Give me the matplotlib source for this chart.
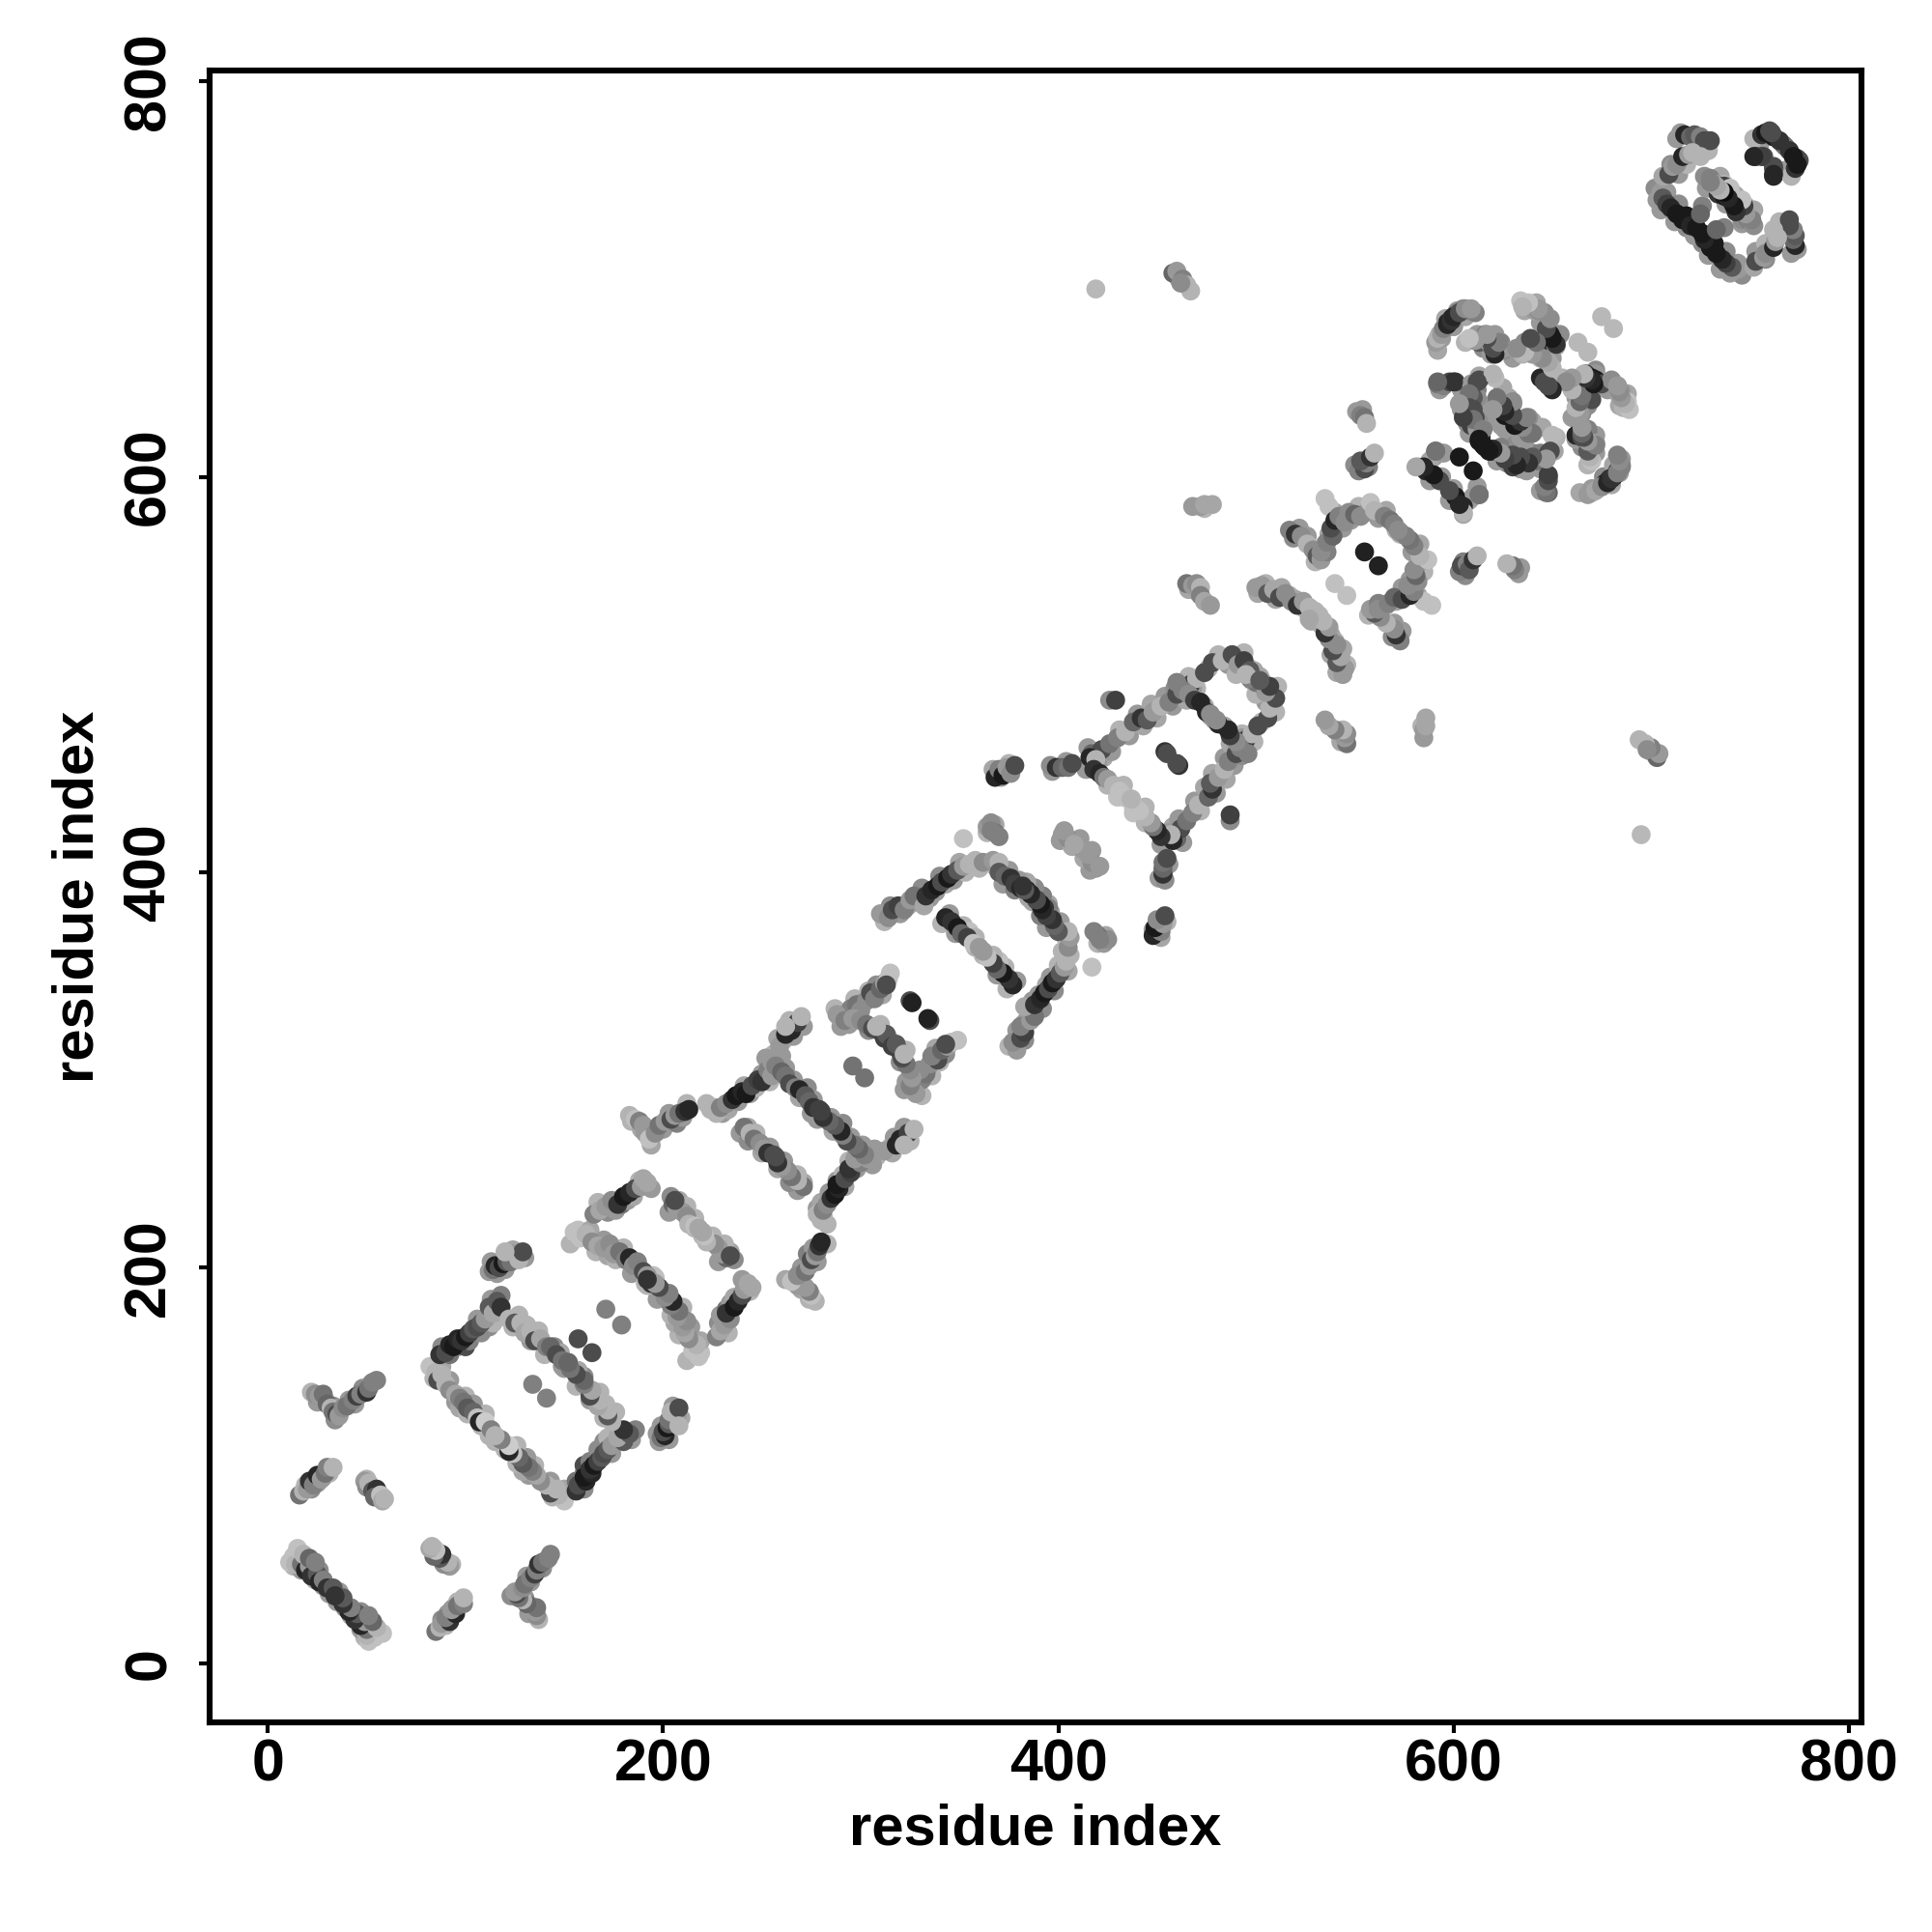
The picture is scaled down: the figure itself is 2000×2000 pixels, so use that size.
import matplotlib
matplotlib.use("Agg")
import matplotlib.pyplot as plt
import numpy as np

plt.rcParams["font.family"] = ["Liberation Sans", "DejaVu Sans"]
plt.rcParams["font.weight"] = "bold"

# contacts, one triangle only: residue i, residue j, grey level
# the map is symmetric so the other triangle comes from swapping i and j
s1_i = [11, 13, 14, 17, 19, 21, 22, 25, 26, 28, 30, 33, 34, 15, 18, 21, 24]
s1_j = [51, 54, 50, 50, 47, 49, 44, 45, 41, 42, 38, 38, 34, 58, 55, 53, 51]
s1_g = [.75, .75, .7, .45, .15, .6, .2, .35, .15, .5, .2, .35, .2, .75, .7, .4, .5]

s2_i = [16, 18, 20, 21, 23, 25, 27, 29, 30, 33]
s2_j = [85, 87, 88, 92, 90, 95, 93, 96, 99, 99]
s2_g = [.45, .7, .6, .2, .5, .15, .6, .45, .5, .7]

s3_i = [49, 50, 51, 53, 55, 54, 57, 58, 59]
s3_j = [92, 89, 91, 87, 88, 84, 85, 82, 83]
s3_g = [.6, .55, .7, .35, .2, .4, .75, .65, .7]

s4_i = [22, 24, 26, 28, 30, 32, 33, 35, 36, 38, 40, 43, 45, 47, 50, 51, 53, 55]
s4_j = [137, 136, 135, 136, 131, 129, 127, 126, 125, 129, 130, 133, 135, 136, 137, 139, 142, 143]
s4_g = [.7, .55, .6, .45, .4, .7, .45, .3, .6, .55, .45, .5, .25, .5, .2, .45, .5, .5]

s5_i = [82, 85, 86, 88, 90, 92, 95, 97, 99, 101, 104, 106, 107, 110, 113, 115]
s5_j = [150, 147, 143, 146, 141, 138, 136, 134, 132, 129, 127, 124, 122, 122, 118, 115]
s5_g = [.75, .7, .3, .7, .7, .55, .65, .5, .45, .35, .4, .75, .15, .8, .5, .7]

s6_i = [87, 90, 92, 94, 96, 98, 100, 102, 104, 106, 108, 110, 112, 114, 116, 118]
s6_j = [156, 157, 161, 160, 164, 163, 165, 167, 169, 170, 172, 174, 180, 177, 183, 180]
s6_g = [.2, .3, .15, .1, .15, .2, .1, .25, .35, .3, .35, .6, .35, .65, .35, .2]

s7_i = [122, 125, 128, 130, 133, 135, 138, 141, 143, 146, 149, 152]
s7_j = [174, 172, 172, 167, 168, 163, 164, 160, 160, 156, 153, 152]
s7_g = [.7, .35, .7, .65, .7, .3, .65, .5, .4, .3, .45, .4]

s8_i = [134, 157, 171]
s8_j = [141, 164, 179]
s8_g = [.5, .3, .5]

s9_i = [112, 114, 115, 117, 119, 121, 123, 125, 127, 129, 120]
s9_j = [198, 199, 201, 200, 202, 203, 203, 207, 204, 208, 208]
s9_g = [.6, .45, .15, .3, .1, .35, .45, .6, .7, .3, .7]

s10_i = [155, 158, 161, 164, 167, 170, 173, 175, 178, 181, 183, 185, 187, 190, 192, 194]
s10_j = [218, 215, 217, 213, 211, 210, 212, 207, 208, 204, 205, 201, 203, 198, 196, 192]
s10_g = [.75, .75, .7, .55, .65, .6, .55, .6, .45, .5, .15, .55, .5, .3, .6, .2]

s11_i = [165, 168, 171, 174, 177, 180, 183, 186, 189, 192, 190]
s11_j = [227, 229, 231, 234, 232, 236, 238, 240, 241, 243, 245]
s11_g = [.5, .65, .6, .55, .2, .1, .15, .3, .6, .65, .65]

s12_i = [205, 207, 210, 212, 213, 216, 206, 218]
s12_j = [232, 230, 228, 226, 222, 221, 234, 220]
s12_g = [.4, .6, .6, .55, .7, .75, .3, .65]

s13_i = [183, 186, 188, 190, 192, 193, 196, 198, 201, 204, 206, 208, 211, 213]
s13_j = [277, 275, 274, 272, 270, 265, 268, 272, 274, 275, 277, 278, 279, 280]
s13_g = [.7, .75, .5, .6, .6, .75, .55, .45, .6, .3, .6, .45, .2, .15]

s14_i = [224, 227, 229, 232, 235, 237, 240, 242, 245, 248, 250, 253, 255, 258, 260, 259, 262, 265, 268, 270, 262]
s14_j = [280, 278, 281, 283, 285, 287, 289, 288, 292, 295, 294, 300, 297, 303, 307, 312, 318, 320, 324, 327, 322]
s14_g = [.7, .7, .5, .55, .2, .1, .15, .1, .3, .25, .2, .5, .6, .4, .6, .6, .15, .15, .25, .7, .7]

s15_i = [255, 257, 260, 262, 264, 267, 269, 272, 274, 276, 279]
s15_j = [304, 302, 299, 297, 293, 291, 290, 287, 284, 281, 280]
s15_g = [.6, .5, .4, .45, .3, .5, .15, .35, .4, .2, .25]

s16_i = [241, 244, 246, 249, 251, 253, 256]
s16_j = [271, 268, 265, 263, 260, 258, 257]
s16_g = [.45, .7, .45, .55, .6, .2, .3]

s17_i = [289, 291, 293, 295, 298, 300, 303, 305, 307, 310, 312, 314, 313]
s17_j = [327, 325, 328, 331, 333, 330, 335, 339, 336, 341, 344, 346, 343]
s17_g = [.65, .6, .4, .5, .45, .55, .55, .3, .5, .4, .6, .75, .3]

s18_i = [288, 292, 296, 300, 303, 306, 309, 312, 313, 308]
s18_j = [328, 325, 326, 325, 323, 321, 320, 316, 318, 322]
s18_g = [.6, .5, .6, .55, .45, .3, .3, .25, .35, .7]

s19_i = [296, 325, 326]
s19_j = [302, 335, 334]
s19_g = [.45, .3, .13]

s20_i = [310, 314, 316, 319, 322, 325, 327, 332, 333, 336, 339, 341, 344, 346, 349, 352, 355, 358, 362, 367, 370, 352]
s20_j = [379, 377, 381, 383, 381, 386, 388, 383, 388, 391, 393, 395, 397, 399, 401, 403, 404, 406, 405, 406, 405, 417]
s20_g = [.6, .55, .3, .25, .5, .6, .45, .65, .2, .15, .1, .3, .1, .2, .35, .6, .7, .7, .55, .6, .7, .75]

s21_i = [370, 373, 376, 378, 381, 384, 386, 389, 391, 393]
s21_j = [400, 398, 397, 394, 392, 391, 389, 386, 383, 382]
s21_g = [.35, .4, .2, .25, .15, .1, .3, .15, .35, .2]

s22_i = [343, 346, 349, 351, 354, 357, 360]
s22_j = [377, 375, 372, 369, 367, 364, 362]
s22_g = [.15, .2, .1, .4, .25, .75, .6]

s23_i = [368, 370, 372, 374, 376, 378, 364, 366, 368, 370, 366]
s23_j = [448, 452, 449, 453, 450, 454, 423, 425, 420, 418, 421]
s23_g = [.15, .5, .1, .6, .55, .3, .6, .55, .45, .5, .5]

s24_i = [396, 399, 402, 405, 407, 402, 405, 409, 412, 414, 403]
s24_j = [454, 453, 453, 453, 455, 419, 417, 415, 412, 408, 421]
s24_g = [.55, .2, .4, .45, .3, .6, .55, .6, .6, .65, .6]

s25_i = [417, 420, 422, 426, 430, 434, 438, 442, 445, 448, 452, 456, 460, 463, 467, 470, 474, 478, 483, 488, 492, 496, 498, 500]
s25_j = [460, 456, 462, 465, 468, 471, 476, 478, 477, 481, 484, 486, 490, 493, 495, 498, 501, 506, 507, 510, 505, 500, 497, 495]
s25_g = [.4, .6, .3, .45, .5, .7, .4, .2, .35, .6, .7, .5, .3, .55, .25, .7, .3, .3, .7, .7, .3, .45, .5, .7]

s26_i = [488, 491, 494, 497, 460, 463, 466, 469, 472, 475, 477]
s26_j = [510, 505, 507, 502, 496, 492, 490, 487, 486, 481, 480]
s26_g = [.3, .6, .25, .35, .5, .5, .55, .25, .15, .15, .55]

s27_i = [416, 419, 418, 421, 423, 425, 428, 431, 434, 437, 426, 429, 454, 455]
s27_j = [458, 457, 452, 450, 448, 447, 444, 441, 438, 437, 487, 487, 461, 460]
s27_g = [.15, .7, .2, .15, .45, .6, .7, .75, .75, .7, .55, .25, .2, .3]

s28_i = [468, 472, 474, 478, 465, 468, 470, 472, 472, 474, 477]
s28_j = [585, 585, 586, 586, 546, 545, 546, 544, 540, 537, 535]
s28_g = [.6, .6, .65, .65, .45, .6, .55, .7, .5, .65, .6]

s29_i = [458, 460, 463, 465, 467, 462, 419]
s29_j = [703, 704, 700, 697, 694, 698, 695]
s29_g = [.4, .6, .5, .7, .7, .55, .72]

s30_i = [500, 503, 506, 509, 512, 515, 518, 521, 524, 527, 530, 533, 528]
s30_j = [544, 545, 541, 543, 539, 541, 537, 535, 537, 534, 532, 528, 527]
s30_g = [.6, .6, .35, .65, .3, .55, .55, .2, .6, .7, .7, .7, .65]

s31_i = [517, 520, 523, 526, 529, 531, 533, 536, 533, 536, 539, 538, 555, 540]
s31_j = [573, 571, 570, 566, 563, 560, 558, 562, 562, 567, 570, 574, 562, 546]
s31_g = [.5, .2, .55, .7, .55, .35, .6, .5, .55, .5, .4, .3, .13, .75]

s32_i = [535, 537, 540, 542, 545, 547, 550, 553, 558, 560, 565, 568, 570, 573]
s32_j = [589, 585, 578, 580, 577, 582, 581, 580, 587, 583, 580, 578, 576, 572]
s32_g = [.75, .75, .15, .5, .55, .55, .4, .55, .75, .7, .5, .45, .5, .55]

s33_i = [552, 555, 556, 553, 558, 560, 551, 553, 555, 556]
s33_j = [603, 604, 607, 608, 610, 612, 633, 631, 630, 627]
s33_g = [.5, .3, .5, .35, .2, .7, .6, .5, .45, .7]

s34_i = [591, 593, 595, 597, 599, 602, 605, 608, 611, 610, 613, 616, 618, 620, 622, 625]
s34_j = [668, 672, 675, 678, 680, 683, 685, 684, 683, 669, 668, 672, 668, 666, 665, 665]
s34_g = [.6, .65, .55, .15, .2, .5, .5, .55, .5, .7, .35, .5, .6, .3, .4, .6]

s35_i = [634, 637, 640, 643, 646, 632, 635, 638, 641, 644, 647, 649, 650, 652, 650, 648, 663, 675]
s35_j = [689, 687, 685, 684, 683, 664, 662, 664, 665, 660, 671, 670, 667, 666, 660, 657, 668, 681]
s35_g = [.75, .7, .6, .55, .6, .6, .7, .4, .45, .7, .1, .15, .2, .7, .6, .55, .72, .72]

s36_i = [592, 595, 598, 601, 621, 613, 609, 610, 607, 610, 606, 611, 609, 612, 614, 616]
s36_j = [647, 646, 648, 648, 650, 649, 647, 640, 638, 634, 632, 630, 626, 624, 620, 615]
s36_g = [.45, .5, .3, .25, .72, .3, .6, .35, .2, .3, .15, .3, .25, .6, .15, .1]

s37_i = [622, 625, 626, 628, 630, 631, 638, 633, 636, 640, 634, 644, 646]
s37_j = [638, 635, 631, 634, 637, 630, 630, 626, 625, 622, 620, 650, 648]
s37_g = [.45, .55, .1, .2, .5, .3, .55, .15, .25, .45, .6, .15, .3]

s38_i = [655, 658, 660, 662, 663, 665, 667, 670, 672, 675, 680, 683, 685, 688, 686, 668, 670]
s38_j = [650, 648, 645, 640, 636, 632, 652, 650, 649, 647, 649, 646, 643, 638, 635, 642, 639]
s38_g = [.7, .65, .55, .6, .72, .55, .2, .1, .1, .3, .55, .55, .6, .75, .7, .45, .3]

s39_i = [662, 665, 668, 670, 672, 669, 670, 670, 672, 675, 677, 679, 681, 683, 685, 685]
s39_j = [621, 620, 623, 617, 617, 611, 608, 592, 594, 595, 597, 599, 600, 603, 606, 609]
s39_g = [.15, .3, .5, .3, .6, .6, .75, .7, .6, .5, .15, .2, .15, .3, .55, .6]

s40_i = [652, 648, 648, 648, 642, 635, 629, 624, 619, 613, 630, 637]
s40_j = [620, 612, 600, 592, 608, 608, 610, 615, 613, 618, 605, 603]
s40_g = [.7, .3, .2, .4, .45, .3, .45, .5, .1, .1, .25, .6]

s41_i = [591, 582, 586, 593, 603, 601, 605, 613, 605]
s41_j = [613, 605, 603, 598, 610, 590, 585, 591, 581]
s41_g = [.45, .7, .15, .3, .1, .1, .15, .45, .65]

s42_i = [715, 717, 720, 722, 725, 727, 730, 752, 756, 758, 762, 757, 753, 762, 762]
s42_j = [774, 773, 772, 773, 772, 770, 770, 771, 773, 774, 772, 762, 762, 756, 752]
s42_g = [.6, .15, .4, .35, .5, .3, .3, .7, .2, .1, .1, .3, .15, .25, .15]

s43_i = [770, 774, 775, 702, 705, 703, 706, 708, 710, 713, 716, 718, 720, 723]
s43_j = [765, 761, 760, 746, 744, 740, 741, 738, 736, 733, 730, 732, 727, 726]
s43_g = [.2, .3, .3, .55, .6, .6, .35, .25, .15, .1, .1, .1, .15, .1]

s44_i = [706, 709, 711, 713, 716, 719, 721, 725]
s44_j = [752, 753, 757, 758, 762, 763, 764, 762]
s44_g = [.65, .3, .6, .55, .15, .6, .7, .7]

s45_i = [727, 730, 733, 737, 740, 734, 737, 741, 744, 745, 747, 749, 725]
s45_j = [752, 751, 748, 747, 746, 743, 742, 739, 737, 735, 733, 730, 733]
s45_g = [.55, .5, .6, .25, .75, .2, .1, .15, .05, .7, .65, .5, .4]

# neighbouring contacts that widen each band, these go underneath
e1_i = [13, 17, 21, 24, 28, 31, 36, 20, 26, 19, 22, 25, 28, 31, 50, 52, 56, 58, 25, 29, 33, 35, 41, 44, 48, 52, 37, 34,
        84, 88, 92, 95, 100, 104, 108, 110, 97, 101, 112, 88, 92, 96, 100, 102, 106, 108, 112, 114, 117, 113, 118,
        124, 127, 131, 133, 137, 140, 145, 148, 150, 155, 113, 116, 120, 124, 130]
e1_j = [49, 47, 46, 42, 39, 35, 36, 52, 47, 90, 88, 91, 94, 96, 93, 88, 86, 84, 132, 133, 130, 129, 133, 131, 139, 141, 128, 123,
        144, 150, 143, 132, 135, 131, 120, 126, 129, 126, 115, 160, 156, 160, 160, 163, 174, 167, 170, 172, 178, 184, 186,
        170, 176, 171, 163, 168, 156, 160, 157, 149, 148, 203, 197, 199, 209, 205]
e1_g = [.7, .6, .5, .65, .55, .6, .6, .6, .55, .7, .55, .6, .65, .7, .7, .65, .55, .7, .6, .65, .55, .6, .6, .6, .55, .6, .6, .55,
        .7, .65, .6, .6, .7, .6, .7, .7, .65, .7, .7, .55, .45, .5, .3, .5, .6, .55, .55, .7, .5, .6, .5,
        .7, .7, .7, .6, .7, .7, .55, .65, .6, .65, .6, .6, .6, .65, .6]

e2_i = [153, 157, 163, 166, 170, 172, 176, 180, 184, 188, 191, 195, 167, 172, 176, 179, 182, 185, 188, 194,
        203, 208, 212, 216, 204, 220, 184, 189, 191, 194, 200, 203, 207, 210, 212,
        222, 226, 230, 233, 238, 241, 244, 247, 250, 254, 257, 256, 261, 264, 258, 266, 271,
        253, 259, 262, 266, 269, 273, 276, 275, 252, 239, 243, 247, 250, 254, 243]
e2_j = [212, 219, 219, 208, 214, 206, 204, 210, 197, 200, 192, 196, 233, 228, 229, 232, 234, 236, 244, 240,
        228, 234, 231, 225, 236, 216, 274, 270, 268, 262, 270, 278, 273, 276, 283,
        283, 281, 278, 280, 284, 292, 288, 291, 298, 294, 300, 308, 315, 325, 316, 317, 322,
        301, 304, 301, 295, 286, 291, 285, 278, 306, 268, 271, 268, 258, 261, 264]
e2_g = [.7, .75, .65, .7, .6, .65, .7, .7, .6, .65, .7, .75, .7, .55, .6, .45, .6, .65, .7, .6,
        .6, .65, .7, .7, .55, .7, .7, .65, .6, .65, .6, .6, .5, .6, .7,
        .7, .7, .6, .65, .6, .65, .6, .7, .6, .7, .65, .7, .7, .7, .65, .6, .6,
        .7, .65, .6, .6, .65, .55, .6, .6, .6, .6, .65, .7, .65, .6, .55]

e3_i = [287, 290, 294, 297, 301, 304, 308, 311, 315, 304, 310, 316,
        312, 315, 320, 324, 328, 331, 335, 338, 340, 343, 347, 350, 353, 360,
        368, 372, 375, 378, 382, 385, 388, 392, 395, 396, 341, 345, 348, 352, 355, 358, 362,
        367, 371, 375, 364, 368, 397, 404, 401, 407, 411]
e3_j = [331, 322, 323, 336, 334, 340, 343, 338, 349, 320, 323, 314,
        375, 383, 379, 383, 385, 392, 387, 390, 398, 394, 396, 405, 400, 402,
        403, 394, 401, 391, 395, 387, 392, 388, 384, 380, 374, 379, 369, 373, 370, 367, 358,
        452, 448, 455, 420, 424, 451, 456, 416, 413, 417]
e3_g = [.7, .6, .6, .7, .6, .7, .55, .65, .75, .55, .7, .7,
        .7, .55, .6, .65, .6, .55, .6, .6, .55, .65, .6, .65, .7, .7,
        .7, .6, .6, .5, .5, .65, .5, .55, .65, .6, .7, .6, .6, .7, .75, .7, .7,
        .65, .6, .7, .7, .65, .6, .6, .6, .65, .6]

e4_i = [415, 418, 423, 427, 431, 436, 440, 443, 447, 450, 454, 458, 462, 466, 470, 476, 481, 486, 490, 494, 499, 503,
        459, 465, 468, 474, 479, 414, 420, 425, 430, 433, 438, 466, 470, 474, 461,
        501, 505, 510, 513, 517, 520, 525, 530, 519, 522, 526, 530, 535, 537, 540, 544, 548, 552, 556, 562, 566, 571,
        550, 557, 554]
e4_j = [463, 455, 458, 461, 472, 469, 480, 474, 485, 478, 489, 484, 489, 499, 493, 503, 510, 505, 500, 511, 502, 497,
        493, 487, 493, 484, 477, 452, 461, 444, 438, 444, 433, 543, 542, 584, 700,
        541, 546, 538, 544, 540, 538, 533, 529, 569, 574, 570, 557, 566, 571, 582, 574, 578, 585, 582, 579, 583, 573,
        606, 605, 634]
e4_g = [.6, .5, .65, .6, .7, .6, .6, .65, .65, .65, .6, .6, .65, .7, .7, .7, .7, .6, .7, .7, .65, .7,
        .55, .65, .6, .65, .6, .6, .7, .7, .75, .7, .75, .65, .65, .7, .7,
        .65, .7, .65, .65, .7, .65, .7, .7, .55, .6, .6, .7, .6, .65, .65, .6, .6, .7, .6, .6, .65, .7,
        .55, .5, .6]

e5_i = [592, 594, 600, 606, 612, 615, 619, 624, 636, 642, 630, 636, 645, 646, 652, 593, 608, 612, 613, 612, 608, 618, 620,
        624, 628, 640, 645, 660, 664, 666, 672, 678, 684, 664, 672, 668, 676, 680, 684, 640, 634, 644, 627, 651,
        590, 588, 600, 608, 612]
e5_j = [664, 670, 676, 681, 672, 665, 662, 668, 684, 688, 660, 668, 667, 664, 672, 644, 644, 644, 636, 627, 622, 636, 632,
        626, 622, 628, 625, 648, 643, 638, 654, 644, 641, 626, 621, 606, 600, 596, 602, 612, 604, 604, 607, 613,
        610, 598, 594, 588, 595]
e5_g = [.65, .6, .55, .65, .6, .55, .6, .5, .65, .65, .6, .55, .65, .7, .6, .6, .6, .5, .6, .55, .6, .6, .55,
        .6, .6, .65, .65, .6, .6, .6, .55, .6, .65, .55, .6, .7, .6, .65, .6, .55, .6, .6, .55, .65,
        .6, .6, .6, .65, .6]

e6_i = [713, 724, 729, 705, 708, 714, 718, 712, 722, 710, 714, 718, 730, 735, 738, 742, 746, 748, 755, 767, 772, 773, 726]
e6_j = [771, 768, 765, 735, 744, 738, 726, 729, 722, 758, 753, 758, 746, 752, 738, 743, 728, 737, 768, 768, 762, 756, 737]
e6_g = [.6, .6, .7, .6, .6, .55, .55, .6, .6, .55, .6, .7, .55, .65, .6, .65, .6, .7, .6, .45, .45, .7, .5]

ticks = [0, 200, 400, 600, 800]

all_i = (s1_i + s2_i + s3_i + s4_i + s5_i + s6_i + s7_i + s8_i + s9_i + s10_i + s11_i + s12_i + s13_i
         + s14_i + s15_i + s16_i + s17_i + s18_i + s19_i + s20_i + s21_i + s22_i + s23_i + s24_i
         + s25_i + s26_i + s27_i + s28_i + s29_i + s30_i + s31_i + s32_i + s33_i + s34_i + s35_i
         + s36_i + s37_i + s38_i + s39_i + s40_i + s41_i + s42_i + s43_i + s44_i + s45_i)
all_j = (s1_j + s2_j + s3_j + s4_j + s5_j + s6_j + s7_j + s8_j + s9_j + s10_j + s11_j + s12_j + s13_j
         + s14_j + s15_j + s16_j + s17_j + s18_j + s19_j + s20_j + s21_j + s22_j + s23_j + s24_j
         + s25_j + s26_j + s27_j + s28_j + s29_j + s30_j + s31_j + s32_j + s33_j + s34_j + s35_j
         + s36_j + s37_j + s38_j + s39_j + s40_j + s41_j + s42_j + s43_j + s44_j + s45_j)
all_g = (s1_g + s2_g + s3_g + s4_g + s5_g + s6_g + s7_g + s8_g + s9_g + s10_g + s11_g + s12_g + s13_g
         + s14_g + s15_g + s16_g + s17_g + s18_g + s19_g + s20_g + s21_g + s22_g + s23_g + s24_g
         + s25_g + s26_g + s27_g + s28_g + s29_g + s30_g + s31_g + s32_g + s33_g + s34_g + s35_g
         + s36_g + s37_g + s38_g + s39_g + s40_g + s41_g + s42_g + s43_g + s44_g + s45_g)

under_i = e1_i + e2_i + e3_i + e4_i + e5_i + e6_i
under_j = e1_j + e2_j + e3_j + e4_j + e5_j + e6_j
under_g = e1_g + e2_g + e3_g + e4_g + e5_g + e6_g

fig = plt.figure(figsize=(10, 10), dpi=200)
ax = fig.add_axes([0.1085, 0.1085, 0.855, 0.855])

# both triangles, widening layer first
xs = np.array(under_i + under_j + all_i + all_j)
ys = np.array(under_j + under_i + all_j + all_i)
shade = np.array(under_g + under_g + all_g + all_g)
ax.scatter(xs, ys, c=shade, cmap="gray", vmin=0, vmax=1, s=50, linewidths=0)

ax.set_xlim(-29.5, 806.5)
ax.set_ylim(-30, 805.5)

ax.set_xticks(ticks)
ax.set_yticks(ticks)
ax.tick_params(axis="x", length=4, width=1.5, pad=2, labelsize=22)
ax.tick_params(axis="y", length=4, width=1.5, pad=8, labelsize=22)
for lab in ax.get_yticklabels():
    lab.set_rotation(90)
    lab.set_va("center")

for side in ax.spines.values():
    side.set_linewidth(2.2)

ax.set_xlabel("residue index", fontsize=21.5, fontweight="bold")
ax.set_ylabel("residue index", fontsize=21.5, fontweight="bold")
ax.xaxis.set_label_coords(0.5, -0.065)
ax.yaxis.set_label_coords(-0.0795, 0.5)
ax.xaxis.label.set_va("center")
ax.yaxis.label.set_va("center")

fig.savefig("out.png", dpi=200)
